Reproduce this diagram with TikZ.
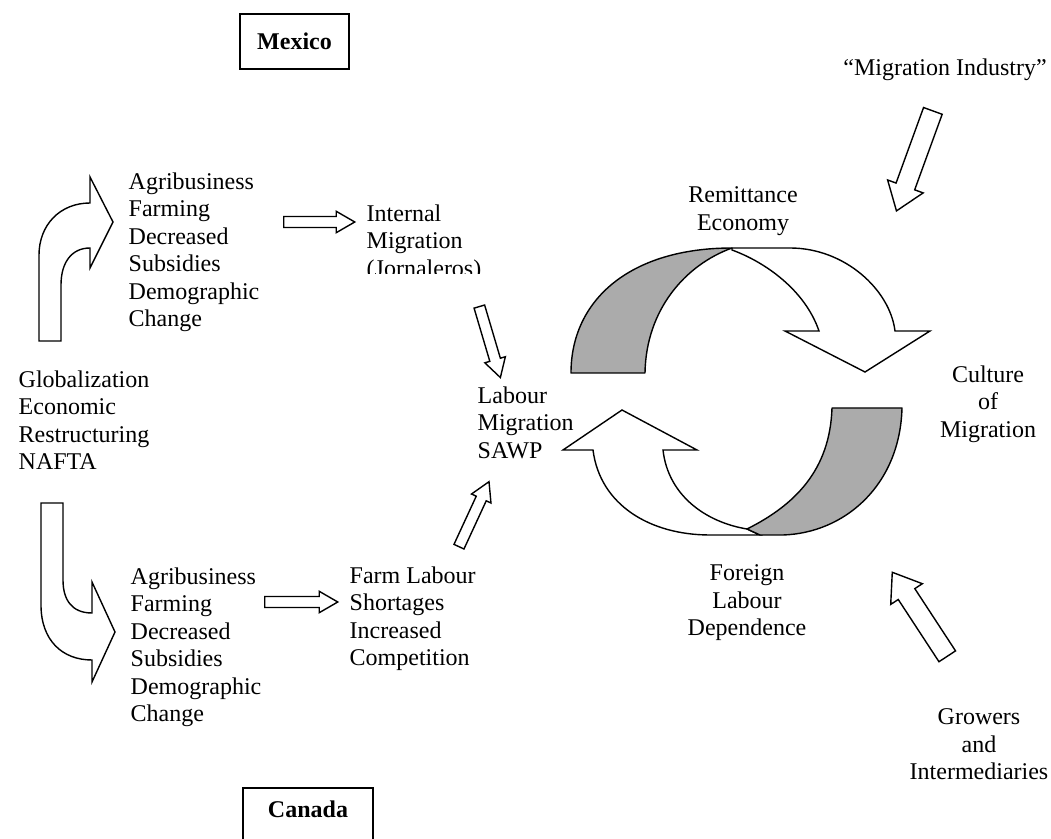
\documentclass[tikz,border=0pt]{standalone}
\usepackage{fontspec}
\setmainfont{Liberation Serif}
\usetikzlibrary{shapes.arrows,positioning}

\begin{document}
\begin{tikzpicture}[x=0.5pt, y=-0.5pt, line width=0.7pt,
		every node/.style={font=\fontsize{12pt}{13.75pt}\selectfont, inner sep=0pt},
		txt/.style={anchor=north west, align=left},
		ctxt/.style={anchor=north, align=center},
		country/.style={draw, font=\fontsize{12pt}{13.75pt}\selectfont\bfseries},
		blockarrow/.style={single arrow, draw, fill=white, single arrow head indent=0pt},
		smallarrow/.style={blockarrow, inner ysep=2.4pt, minimum width=10pt, single arrow head extend=2.6pt, single arrow tip angle=60},
		bigarrow/.style={blockarrow, inner ysep=4.6pt, minimum width=18.2pt, single arrow head extend=4.5pt, single arrow tip angle=72},
		bent/.style={draw, fill=white, line join=miter},
		backside/.style={draw, fill=black!33, line join=round}]
\useasboundingbox (0,0) rectangle (1051,839);
\clip (0,0) rectangle (1051,839);

% countries
\node[country, minimum width=54.5pt, minimum height=27.5pt] (mexico) at (294.5,41.5) {Mexico};
\node[country, anchor=base, minimum width=65pt, text height=15pt, text depth=20pt] (canada) at (308,818) {Canada};

% left side
\node[txt] (global) at (18,370) {Globalization\\Economic\\Restructuring\\NAFTA};
\draw[bent] (39,341) -- (39,255) .. controls (39,225) and (60,203) .. (90,203) -- (90,177) -- (113,222)
	-- (90,268) -- (90,248) .. controls (72,248) and (61,262) .. (61,285) -- (61,341) -- cycle;
\draw[bent] (41,503) -- (41,605) .. controls (41,640) and (62,660) .. (92,660) -- (92,682) -- (115,632)
	-- (92,582) -- (92,613) .. controls (72,613) and (63,600) .. (63,580) -- (63,503) -- cycle;

\node[txt] (agritop) at (128,172) {Agribusiness\\Farming\\Decreased\\Subsidies\\Demographic\\Change};
\node[txt] (agribot) at (130,567) {Agribusiness\\Farming\\Decreased\\Subsidies\\Demographic\\Change};

\node[smallarrow, minimum height=35.5pt] (toparr) at (314.5,222) {};
\node[smallarrow, minimum height=36.5pt] (botarr) at (296.5,602) {};

\begin{scope}
\clip (355,190) rectangle (480,274);
\node[txt] (internal) at (366,204) {Internal\\Migration\\(Jornaleros)};
\end{scope}
\node[txt] (farm) at (349,566) {Farm Labour\\Shortages\\Increased\\Competition};

\node[smallarrow, rotate=-73.5, minimum height=37pt] (downarr) at (488.5,337.5) {};
\node[smallarrow, rotate=65.2, minimum height=35.8pt] (uparr) at (472,518.5) {};
\node[txt] (labour) at (477,386) {Labour\\Migration\\SAWP};

% cycle
\draw[fill=white] (732,248) -- (790,248) .. controls (845,248) and (890,290) .. (895,331) -- (930,331)
	-- (865,372) -- (785,331) -- (819,331) .. controls (805,290) and (765,262) .. (732,250) -- cycle;
\draw[backside] (571,373) .. controls (571,300) and (630,248) .. (732,248)
	.. controls (685,265) and (646,310) .. (645,373) -- cycle;
\draw[fill=white] (563,450) -- (622,410) -- (697,450) -- (663,450) .. controls (668,495) and (705,522) .. (747,529)
	-- (760,535) -- (710,535) .. controls (650,535) and (600,505) .. (593,450) -- cycle;
\draw[backside] (902,408) -- (832,408) .. controls (830,470) and (795,505) .. (747,529) -- (760,535)
	-- (783,535) .. controls (845,533) and (900,485) .. (902,408) -- cycle;

\node[ctxt] (remit) at (743,186) {Remittance\\Economy};
\node[ctxt] (culture) at (988,365) {Culture\\of\\Migration};
\node[ctxt] (foreign) at (747,564) {Foreign\\Labour\\Dependence};

% outside actors
\node (industry) at (945,70) {“Migration Industry”};
\node[bigarrow, rotate=-110, minimum height=53.2pt] (indarr) at (917,154.5) {};
\node[bigarrow, rotate=123.2, minimum height=50.2pt] (growarr) at (923.5,620) {};
\node[ctxt] (growers) at (979,708) {Growers\\and\\Intermediaries};
\end{tikzpicture}
\end{document}
